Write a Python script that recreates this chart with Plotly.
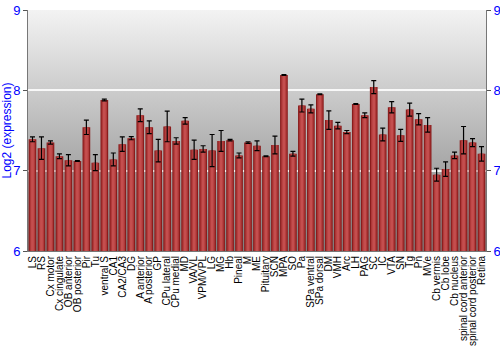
import base64
import plotly.graph_objects as go

categories = ["LS", "RS", "Cx motor", "Cx cingulate", "OB anterior", "OB posterior", "Pir", "Tu",
              "ventral S", "CA1", "CA2/CA3", "DG", "A anterior", "A posterior", "GP", "CPu lateral",
              "CPu medial", "MD", "VA/VL", "VPM/VPL", "LG", "MG", "Hb", "Pineal", "M", "ME",
              "Pituitary", "SCN", "MPA", "SO", "Pa", "SPa ventral", "SPa dorsal", "DM", "VMH", "Arc",
              "LH", "PAG", "SC", "IC", "VTA", "SN", "Tg", "Pn", "MVe", "Cb vermis", "Cb lobe",
              "Cb nucleus", "spinal cord anterior", "spinal cord posterior", "Retina"]

values = [7.39, 7.28, 7.35, 7.18, 7.13, 7.12, 7.54, 7.10,
          7.88, 7.14, 7.33, 7.405, 7.69, 7.54, 7.25, 7.55,
          7.37, 7.62, 7.26, 7.27, 7.25, 7.37, 7.38, 7.19, 7.35, 7.31,
          7.18, 7.32, 8.19, 7.21, 7.81, 7.77, 7.95, 7.63, 7.56, 7.48,
          7.83, 7.69, 8.04, 7.45, 7.79, 7.44, 7.76, 7.64, 7.57, 6.95, 7.02,
          7.19, 7.38, 7.35, 7.21]

errors = [0.03, 0.14, 0.02, 0.03, 0.07, 0.005, 0.09, 0.10,
          0.01, 0.08, 0.09, 0.02, 0.08, 0.08, 0.14, 0.19,
          0.04, 0.04, 0.12, 0.04, 0.20, 0.13, 0.01, 0.03, 0.01, 0.06,
          0.005, 0.11, 0.005, 0.03, 0.08, 0.05, 0.005, 0.115, 0.04, 0.02,
          0.005, 0.03, 0.08, 0.08, 0.07, 0.075, 0.08, 0.07, 0.09, 0.08, 0.09,
          0.04, 0.17, 0.05, 0.09]

y_ticks = [6, 7, 8, 9]

svg = ('<svg xmlns="http://www.w3.org/2000/svg" width="100" height="100" preserveAspectRatio="none">'
       '<defs><linearGradient id="g" x1="0" y1="0" x2="0" y2="1">'
       '<stop offset="0" stop-color="#f3f3f3"/><stop offset="1" stop-color="#7e7e7e"/>'
       '</linearGradient></defs><rect width="100" height="100" fill="url(#g)"/></svg>')
bg = "data:image/svg+xml;base64," + base64.b64encode(svg.encode()).decode()

fig = go.Figure()
fig.add_trace(go.Bar(x=categories, y=values, width=0.86, marker=dict(color="#8a1c1c", line=dict(width=0)),
                     hoverinfo="skip", showlegend=False))
fig.add_trace(go.Bar(x=categories, y=values, width=0.6, marker=dict(color="#b03a3a", line=dict(width=0)),
                     hoverinfo="skip", showlegend=False))
fig.add_trace(go.Bar(x=categories, y=values, width=0.3, marker=dict(color="#c44e4e", line=dict(width=0)),
                     showlegend=False,
                     error_y=dict(type="data", array=errors, visible=True, color="#000000",
                                  thickness=1.2, width=2.5)))

font_family = "Liberation Sans, Arial, sans-serif"
axis_font = dict(family=font_family, size=13, color="#0000ff")

fig.update_layout(
    width=500, height=350,
    margin=dict(l=28, r=14, t=10, b=99),
    barmode="overlay",
    paper_bgcolor="white",
    plot_bgcolor="rgba(0,0,0,0)",
    font=dict(family=font_family),
    images=[dict(source=bg, xref="paper", yref="paper", x=0, y=1, sizex=1, sizey=1,
                 sizing="stretch", xanchor="left", yanchor="top", layer="below")],
    xaxis=dict(
        tickmode="array", tickvals=categories, ticktext=categories,
        tickangle=-90, tickfont=dict(family=font_family, size=10, color="#000000"),
        showgrid=False, showline=True, linecolor="#777777", linewidth=1,
        ticks="", ticklen=0, range=[-0.5, len(categories) - 0.5], automargin=False,
    ),
    yaxis=dict(
        range=[6, 9], tickvals=y_ticks, tickfont=axis_font, automargin=False,
        title=dict(text="Log2 (expression)", font=dict(family=font_family, size=12, color="#0000ff"),
                   standoff=2),
        showgrid=True, gridcolor="rgba(255,255,255,0.85)", gridwidth=1.5,
        showline=True, linecolor="#777777", linewidth=1, mirror=True,
        ticks="outside", ticklen=4, tickcolor="#555555", zeroline=False,
    ),
    yaxis2=dict(
        range=[6, 9], tickvals=y_ticks, tickfont=axis_font, overlaying="y", side="right",
        showgrid=False, showline=False, ticks="outside", ticklen=4, tickcolor="#555555",
        zeroline=False, automargin=False,
    ),
)
fig.add_trace(go.Scatter(x=[categories[0]], y=[6], yaxis="y2", mode="markers",
                         marker=dict(opacity=0), hoverinfo="skip", showlegend=False))

fig.write_html("out.html")
